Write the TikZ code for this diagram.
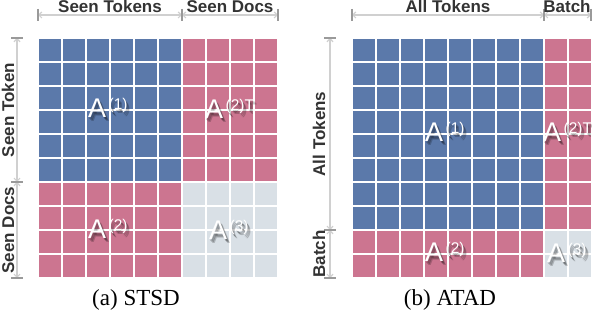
\documentclass[tikz,border=0pt]{standalone}
\usepackage{fontspec}
\setmainfont{Liberation Serif}
\setsansfont{Liberation Sans}
\usetikzlibrary{arrows.meta}

\definecolor{tokblue}{HTML}{5B79AA}
\definecolor{docpink}{HTML}{CC7590}
\definecolor{batgray}{HTML}{D9E0E6}
\definecolor{dimgray}{HTML}{D0D0D0}
\definecolor{tickgray}{HTML}{9A9A9A}
\definecolor{labgray}{HTML}{333333}

\newcommand{\Amat}[1]{A\hspace{2.5pt}\raisebox{8pt}{\fontsize{15.5}{15.5}\selectfont #1}}
\newcommand{\matnode}[4]{%
  \foreach \dx/\dy in {1/-1.5,2/-2.5,3/-3.5}
    \node[matshadow] at (#2+\dx,#3+\dy) {\Amat{#4}};
  \node[matlabel] (#1) at (#2,#3) {\Amat{#4}};}

\tikzset{
  cellsep/.style={draw=white, line width=2pt},
  dimline/.style={draw=dimgray, line width=1.2pt, {Straight Barb[length=3pt,width=6pt]}-{Straight Barb[length=3pt,width=6pt]}},
  dimtick/.style={draw=tickgray, line width=1.8pt},
  dimlabel/.style={font=\fontsize{17}{17}\selectfont\sffamily\bfseries, text=labgray, inner sep=0pt, anchor=base},
  matlabel/.style={font=\fontsize{27}{27}\selectfont\sffamily, text=white, inner sep=0pt, anchor=base west},
  matshadow/.style={matlabel, text=black, opacity=0.2},
  subcap/.style={font=\fontsize{23}{23}\selectfont, inner sep=0pt, anchor=base}
}

\begin{document}
\begin{tikzpicture}[x=1pt,y=1pt]
  \useasboundingbox (0,0) rectangle (592,-320);

  % (a) STSD
  \fill[tokblue] (38,-38) rectangle (182,-182);
  \fill[docpink] (182,-38) rectangle (278,-182);
  \fill[docpink] (38,-182) rectangle (182,-278);
  \fill[batgray] (182,-182) rectangle (278,-278);
  \foreach \k in {0,...,10} {
    \draw[cellsep] (38+24*\k,-38) -- (38+24*\k,-278);
    \draw[cellsep] (38,-38-24*\k) -- (278,-38-24*\k);
  }
  \matnode{aone}{88}{-118}{(1)}
  \matnode{atwoT}{205}{-119}{(2)T}
  \matnode{atwo}{88}{-239}{(2)}
  \matnode{athree}{209}{-240}{(3)}

  \coordinate (ta0) at (38,-15); \coordinate (ta1) at (182,-15); \coordinate (ta2) at (278,-15);
  \draw[dimline] (ta0) -- (ta1);
  \draw[dimline] (ta1) -- (ta2);
  \foreach \c in {ta0,ta1,ta2} \draw[dimtick] ([yshift=6]\c) -- ([yshift=-6]\c);
  \node[dimlabel] (seentok) at (110,-13) {Seen Tokens};
  \node[dimlabel] (seendoc) at (230,-13) {Seen Docs};

  \coordinate (la0) at (17,-38); \coordinate (la1) at (17,-182); \coordinate (la2) at (17,-278);
  \draw[dimline] (la0) -- (la1);
  \draw[dimline] (la1) -- (la2);
  \foreach \c in {la0,la1,la2} \draw[dimtick] ([xshift=-6]\c) -- ([xshift=6]\c);
  \node[dimlabel, rotate=90] (seentokv) at (14,-110) {Seen Token};
  \node[dimlabel, rotate=90] (seendocv) at (14,-230) {Seen Docs};

  \node[subcap] (capa) at (136,-306) {(a) STSD};

  % (b) ATAD
  \fill[tokblue] (352,-38) rectangle (544,-230);
  \fill[docpink] (544,-38) rectangle (592,-230);
  \fill[docpink] (352,-230) rectangle (544,-278);
  \fill[batgray] (544,-230) rectangle (592,-278);
  \foreach \k in {0,...,10} {
    \draw[cellsep] (352+24*\k,-38) -- (352+24*\k,-278);
    \draw[cellsep] (352,-38-24*\k) -- (592,-38-24*\k);
  }
  \matnode{bone}{425}{-142}{(1)}
  \matnode{btwoT}{543}{-142}{(2)T}
  \matnode{btwo}{425}{-262}{(2)}
  \matnode{bthree}{547}{-263}{(3)}

  \coordinate (tb0) at (352,-15); \coordinate (tb1) at (544,-15); \coordinate (tb2) at (591,-15);
  \draw[dimline] (tb0) -- (tb1);
  \draw[dimline] (tb1) -- (tb2);
  \foreach \c in {tb0,tb1,tb2} \draw[dimtick] ([yshift=6]\c) -- ([yshift=-6]\c);
  \node[dimlabel] (alltok) at (448,-13) {All Tokens};
  \node[dimlabel] (batch) at (567,-13) {Batch};

  \coordinate (lb0) at (330,-38); \coordinate (lb1) at (330,-230); \coordinate (lb2) at (330,-278);
  \draw[dimline] (lb0) -- (lb1);
  \draw[dimline] (lb1) -- (lb2);
  \foreach \c in {lb0,lb1,lb2} \draw[dimtick] ([xshift=-6]\c) -- ([xshift=6]\c);
  \node[dimlabel, rotate=90] (alltokv) at (325,-134) {All Tokens};
  \node[dimlabel, rotate=90] (batchv) at (325,-254) {Batch};

  \node[subcap] (capb) at (450,-306) {(b) ATAD};
\end{tikzpicture}
\end{document}
